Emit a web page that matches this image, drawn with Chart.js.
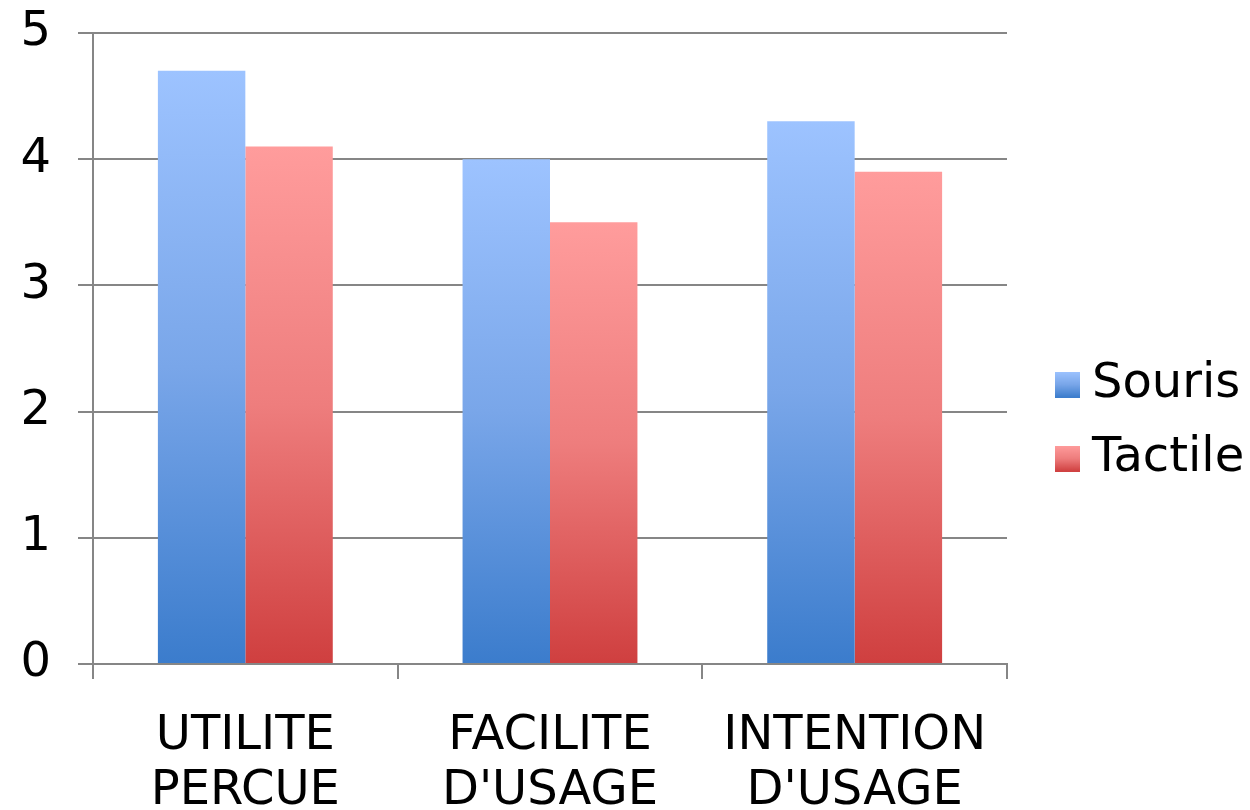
<!DOCTYPE html>
<html>
<head>
<meta charset="utf-8">
<script src="https://cdn.jsdelivr.net/npm/chart.js@4/dist/chart.umd.min.js"></script>
<style>
  html, body { margin: 0; padding: 0; background: #ffffff; }
  #wrap { width: 1250px; height: 810px; }
</style>
</head>
<body>
<div id="wrap"><canvas id="c" width="1250" height="810"></canvas></div>
<script>
// Survey scores per criterion, mouse vs touch interaction
const categories = [["UTILITE", "PERCUE"], ["FACILITE", "D'USAGE"], ["INTENTION", "D'USAGE"]];
const seriesNames = ["Souris", "Tactile"];
const sourisValues = [4.7, 4.0, 4.3];
const tactileValues = [4.1, 3.5, 3.9];
const yTicks = [0, 1, 2, 3, 4, 5];

const FONT = "'DejaVu Sans', sans-serif";
const GRID = '#868686';

// Vertical gradient stops (top → base) for each series
const palettes = {
  Souris: ['#9dc3ff', '#79a6e9', '#3b7ccc'],
  Tactile: ['#ff9c9c', '#ee7d7d', '#cf3f3f']
};

function barGradient(name) {
  return function (ctx) {
    const chart = ctx.chart;
    const y = chart.scales && chart.scales.y;
    const stops = palettes[name];
    if (!y || ctx.raw === undefined || !chart.chartArea) return stops[1];
    const top = y.getPixelForValue(ctx.raw);
    const base = y.getPixelForValue(0);
    if (!isFinite(top) || !isFinite(base) || top === base) return stops[1];
    const g = chart.ctx.createLinearGradient(0, top, 0, base);
    g.addColorStop(0, stops[0]);
    g.addColorStop(0.5, stops[1]);
    g.addColorStop(1, stops[2]);
    return g;
  };
}

// Small gradient swatch used as the legend marker; the transparent left part
// positions the square relative to the label text.
function swatch(name) {
  const c = document.createElement('canvas');
  c.width = 59; c.height = 26;
  const x = c.getContext('2d');
  const stops = palettes[name];
  const g = x.createLinearGradient(0, 0, 0, 26);
  g.addColorStop(0, stops[0]);
  g.addColorStop(0.5, stops[1]);
  g.addColorStop(1, stops[2]);
  x.fillStyle = g;
  x.fillRect(34, 0, 25, 26);
  return c;
}

const legendWidth = {
  id: 'legendWidth',
  afterInit(chart) {
    const lg = chart.legend;
    if (!lg) return;
    const fit = lg.fit;
    lg.fit = function () {
      fit.call(this);
      this.width = 243;
    };
  }
};

new Chart(document.getElementById('c'), {
  type: 'bar',
  data: {
    labels: categories,
    datasets: [
      { label: seriesNames[0], data: sourisValues, backgroundColor: barGradient('Souris'),
        pointStyle: swatch('Souris') },
      { label: seriesNames[1], data: tactileValues, backgroundColor: barGradient('Tactile'),
        pointStyle: swatch('Tactile') }
    ]
  },
  options: {
    responsive: false,
    animation: false,
    devicePixelRatio: 1,
    layout: { padding: { top: 33, right: 0, bottom: 0, left: 0 } },
    datasets: { bar: { categoryPercentage: 0.574, barPercentage: 1.0, borderWidth: 0 } },
    scales: {
      x: {
        offset: true,
        grid: { offset: true, drawOnChartArea: false, drawTicks: true, tickLength: 15,
                color: GRID, lineWidth: 2 },
        border: { display: true, color: GRID, width: 2 },
        ticks: { color: '#000', font: { family: FONT, size: 48, lineHeight: 1.15 },
                 padding: 30, maxRotation: 0, autoSkip: false },
        afterFit(s) { s.height = 146; s.paddingLeft = 0; s.paddingRight = 0; }
      },
      y: {
        min: 0, max: 5,
        afterBuildTicks(s) { s.ticks = yTicks.map(v => ({ value: v })); },
        grid: { color: GRID, lineWidth: 2, tickLength: 15, drawTicks: true },
        border: { display: true, color: GRID, width: 2 },
        ticks: { color: '#000', font: { family: FONT, size: 48 }, padding: 27 },
        afterFit(s) { s.width = 93; s.paddingTop = 0; s.paddingBottom = 0; }
      }
    },
    plugins: {
      legend: {
        position: 'right',
        labels: {
          usePointStyle: true,
          pointStyleWidth: 35,
          boxHeight: 26,
          padding: 26,
          color: '#000',
          font: { family: FONT, size: 48 }
        }
      },
      tooltip: { enabled: false }
    }
  },
  plugins: [legendWidth]
});
</script>
</body>
</html>
